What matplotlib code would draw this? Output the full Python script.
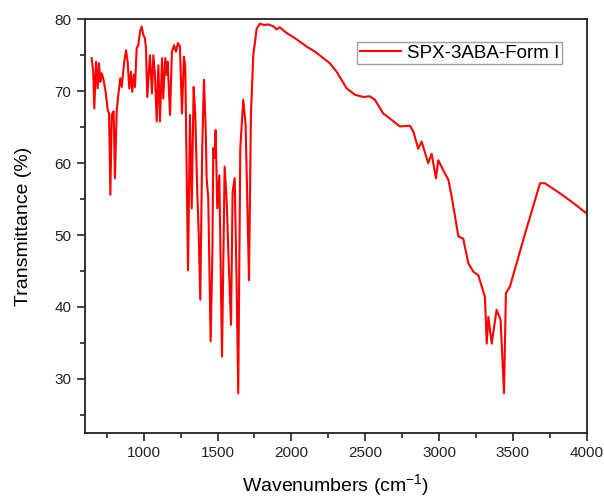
import matplotlib
matplotlib.use("Agg")
import numpy as np
import matplotlib.pyplot as plt
from matplotlib.ticker import MultipleLocator

plt.rcParams['font.family'] = ['Liberation Sans', 'DejaVu Sans']

# FTIR spectrum, SPX-3ABA Form I (wavenumber in cm-1, transmittance in %)
wavenumber = [
    647, 658, 665, 677, 688, 697, 706, 715, 726, 742, 756, 765, 774, 783, 796,
    805, 817, 828, 841, 851, 868, 880, 891, 902, 914, 922, 934, 941, 952, 963,
    975, 986, 997, 1008, 1015, 1024, 1042, 1056, 1065, 1076, 1088, 1099, 1110,
    1124, 1132, 1146, 1155, 1162, 1178, 1191, 1205, 1218, 1232, 1245, 1259,
    1272, 1281, 1300, 1313, 1325, 1338, 1349, 1363, 1372, 1383, 1396, 1408,
    1420, 1426, 1437, 1453, 1465, 1471, 1480, 1487, 1498, 1512, 1530, 1548,
    1562, 1575, 1591, 1602, 1616, 1629, 1640, 1654, 1674, 1690, 1713, 1726,
    1742, 1765, 1787, 1815, 1843, 1880, 1900, 1920, 1968, 2030, 2104, 2160,
    2216, 2260, 2307, 2374, 2431, 2487, 2530, 2566, 2622, 2680, 2735, 2803,
    2826, 2859, 2882, 2927, 2950, 2979, 2995, 3029, 3063, 3086, 3131, 3164,
    3198, 3232, 3266, 3300, 3311, 3323, 3334, 3357, 3390, 3417, 3440, 3453,
    3480, 3580, 3684, 3717, 3819, 3900, 4000,
]
transmittance = [
    74.6, 72.7, 67.6, 74.1, 70.4, 73.9, 71.3, 72.5, 71.8, 69.9, 67.4, 66.9,
    55.6, 66.7, 67.2, 57.9, 67.4, 69.5, 71.8, 70.6, 74.1, 75.7, 74.1, 70.4,
    72.7, 69.9, 72.3, 70.6, 76.0, 76.4, 78.3, 79.0, 77.8, 77.4, 76.0, 69.2,
    75.0, 69.7, 75.0, 72.3, 65.8, 73.6, 65.8, 74.6, 69.0, 74.6, 72.3, 74.1,
    66.7, 75.5, 76.4, 75.5, 76.7, 76.2, 66.9, 74.8, 73.6, 45.1, 66.7, 53.7,
    70.6, 66.7, 55.6, 50.5, 41.0, 62.1, 71.6, 64.4, 57.9, 55.1, 35.2, 47.7,
    62.1, 60.7, 64.6, 53.7, 58.3, 33.1, 59.5, 54.6, 46.5, 37.5, 56.0, 57.9,
    43.5, 28.0, 62.1, 68.8, 65.3, 43.7, 66.7, 75.0, 78.7, 79.4, 79.2, 79.3,
    79.0, 78.6, 78.9, 78.1, 77.3, 76.2, 75.5, 74.6, 73.9, 72.7, 70.4, 69.5,
    69.2, 69.3, 68.8, 66.9, 66.0, 65.1, 65.2, 64.4, 62.0, 63.0, 60.0, 61.3,
    57.9, 60.4, 59.0, 57.7, 55.3, 49.8, 49.5, 46.1, 44.9, 44.4, 42.1, 41.4,
    34.9, 38.6, 34.9, 39.6, 38.2, 28.0, 41.9, 42.8, 50.0, 57.2, 57.2, 55.8,
    54.6, 53.0,
]

fig = plt.figure(figsize=(6.04, 4.98), dpi=100)
ax = fig.add_axes([0.1402, 0.1311, 0.8311, 0.8301])

ax.plot(wavenumber, transmittance, color='#ff0000', lw=1.5,
        label='SPX-3ABA-Form I')

ax.set_xlim(600, 4000)
ax.set_ylim(22.5, 80)
ax.xaxis.set_major_locator(MultipleLocator(500))
ax.xaxis.set_minor_locator(MultipleLocator(250))
ax.yaxis.set_major_locator(MultipleLocator(10))
ax.yaxis.set_minor_locator(MultipleLocator(5))
ax.tick_params(which='major', direction='out', length=6, width=1.2,
               labelsize=11, colors='#222222', top=False, right=False)
ax.tick_params(which='minor', direction='out', length=3.5, width=1.2,
               top=False, right=False, colors='#222222')
for s in ax.spines.values():
    s.set_linewidth(1.3)
    s.set_color('#222222')

ax.set_xlabel(r'Wavenumbers (cm$^{\mathregular{-1}}$)', fontsize=14, labelpad=9)
ax.set_ylabel('Transmittance (%)', fontsize=14, labelpad=16)

leg = ax.legend(loc='upper right', bbox_to_anchor=(561.7 / 604, (498 - 41.7) / 498),
                bbox_transform=fig.transFigure, borderaxespad=0, fancybox=False,
                fontsize=13.5, handlelength=2.2, handletextpad=0.3,
                borderpad=0.15, frameon=True)
leg.get_frame().set_edgecolor('#888888')
leg.get_frame().set_linewidth(1.0)

fig.savefig('out.png', dpi=100)
